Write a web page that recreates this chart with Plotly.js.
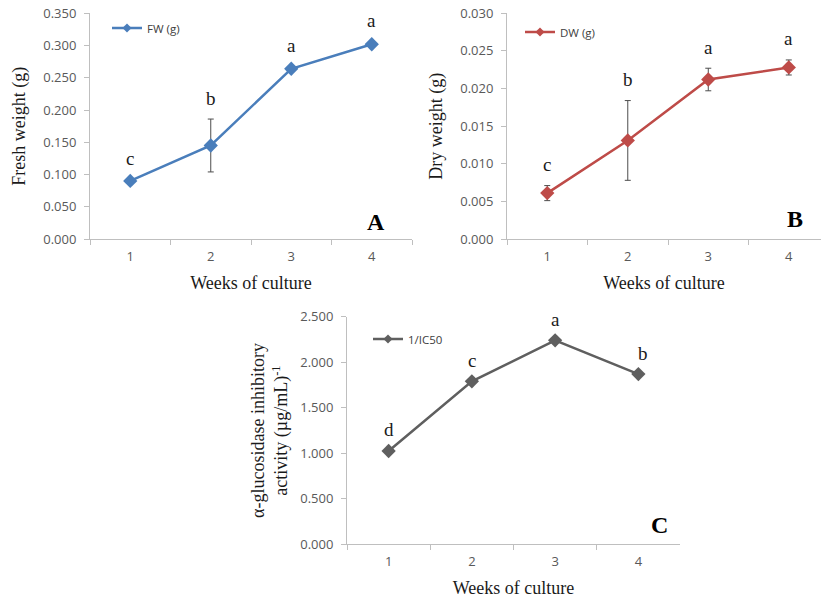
<!DOCTYPE html>
<html>
<head>
<meta charset="utf-8">
<script src="https://cdn.plot.ly/plotly-3.0.1.min.js"></script>
<style>html,body{margin:0;padding:0;background:#fff;}#chart{width:821px;height:603px;}</style>
</head>
<body>
<div id="chart"></div>
<script>
// ---- data ----
const weeks = ['1', '2', '3', '4'];
const freshWeight = [0.090, 0.145, 0.264, 0.302];
const freshWeightErr = [0.003, 0.041, 0.004, 0.004];
const freshLetters = ['c', 'b', 'a', 'a'];
const dryWeight = [0.0061, 0.0131, 0.0212, 0.0228];
const dryWeightErr = [0.0010, 0.0053, 0.0015, 0.0010];
const dryLetters = ['c', 'b', 'a', 'a'];
const inhibition = [1.025, 1.790, 2.240, 1.870];
const inhibitionLetters = ['d', 'c', 'a', 'b'];

const W = 821, H = 603;
const px = v => v / W;
const py = v => (H - v) / H;

const blue = '#4A7EBB', red = '#BE4B48', gray = '#5F5F5F';
const serif = 'Liberation Serif, Times New Roman, serif';
const sans = 'Open Sans, sans-serif';

function series(x, y, err, color, name, xa, ya, leg) {
  const t = {
    x: x, y: y, type: 'scatter', mode: 'lines+markers', name: name,
    xaxis: xa, yaxis: ya, showlegend: false,
    line: {color: color, width: 2.5},
    marker: {symbol: 'diamond', size: 11, color: color}
  };
  if (err) t.error_y = {type: 'data', array: err, visible: true, color: '#4d4d4d', thickness: 1, width: 3};
  // legend-only entry with a small marker, like the original legend key
  const key = {
    x: [null], y: [null], type: 'scatter', mode: 'lines+markers', name: name,
    xaxis: xa, yaxis: ya, legend: leg, showlegend: true, hoverinfo: 'skip',
    line: {color: color, width: 2.5},
    marker: {symbol: 'diamond', size: 7, color: color}
  };
  return [t, key];
}

const data = [].concat(
  series(weeks, freshWeight, freshWeightErr, blue, 'FW (g)', 'x', 'y', 'legend'),
  series(weeks, dryWeight, dryWeightErr, red, 'DW (g)', 'x2', 'y2', 'legend2'),
  series(weeks, inhibition, null, gray, '1/IC50', 'x3', 'y3', 'legend3')
);

const tickFont = {family: sans, size: 13, color: '#595959'};
const titleFont = {family: serif, size: 18, color: '#1a1a1a'};

function xAxis(domain, range, anchor) {
  return {
    domain: domain, range: range, type: 'category', anchor: anchor,
    showline: true, linecolor: '#bfbfbf', linewidth: 1,
    ticks: 'outside', tickson: 'boundaries', ticklen: 5, tickcolor: '#bfbfbf',
    showgrid: false, zeroline: false, tickfont: tickFont, ticklabelstandoff: 5,
    title: {text: 'Weeks of culture', font: titleFont, standoff: 12}
  };
}
function yAxis(domain, range, dtick, anchor, title, standoff) {
  return {
    domain: domain, range: range, dtick: dtick, tick0: 0, anchor: anchor,
    tickformat: '.3f', showline: true, linecolor: '#bfbfbf', linewidth: 1,
    ticks: 'outside', ticklen: 5, tickcolor: '#bfbfbf',
    showgrid: false, zeroline: false, tickfont: tickFont, ticklabelstandoff: 5,
    title: {text: title, font: titleFont, standoff: standoff}
  };
}

const annotations = [];
function addLetters(letters, ys, errs, xa, ya, lastShift) {
  letters.forEach((l, i) => {
    annotations.push({
      x: i, y: ys[i] + (errs ? errs[i] : 0), xref: xa, yref: ya,
      text: l, showarrow: false, yanchor: 'middle', yshift: 21,
      xshift: (i === letters.length - 1 && lastShift) ? lastShift : 0,
      font: {family: serif, size: 19, color: '#1a1a1a'}
    });
  });
}
addLetters(freshLetters, freshWeight, freshWeightErr, 'x', 'y', 0);
addLetters(dryLetters, dryWeight, dryWeightErr, 'x2', 'y2', 0);
addLetters(inhibitionLetters, inhibition, null, 'x3', 'y3', 5);

const panelFont = {family: serif, size: 24, color: '#000'};
[['A', 376, 222], ['B', 795, 219], ['C', 659, 525]].forEach(p => {
  annotations.push({
    text: '<b>' + p[0] + '</b>', x: px(p[1]), y: py(p[2]), xref: 'paper', yref: 'paper',
    showarrow: false, xanchor: 'center', yanchor: 'middle', font: panelFont
  });
});

function legend(x, y) {
  return {
    x: px(x), y: py(y), xref: 'paper', yref: 'paper', xanchor: 'left', yanchor: 'middle',
    bgcolor: 'rgba(0,0,0,0)', borderwidth: 0,
    font: {family: sans, size: 11.5, color: '#404040'}
  };
}

const layout = {
  width: W, height: H,
  margin: {l: 0, r: 0, t: 0, b: 0},
  paper_bgcolor: '#fff', plot_bgcolor: 'rgba(0,0,0,0)',
  showlegend: true,
  xaxis: xAxis([px(90), px(412)], [-0.5, 3.5], 'y'),
  yaxis: yAxis([py(239), py(13.3)], [0, 0.35], 0.05, 'x', 'Fresh weight (g)', 12),
  xaxis2: xAxis([px(507), 1], [-0.5, 3.4], 'y2'),
  yaxis2: yAxis([py(239), py(13.3)], [0, 0.03], 0.005, 'x2', 'Dry weight (g)', 12),
  xaxis3: xAxis([px(347), px(680)], [-0.5, 3.5], 'y3'),
  yaxis3: yAxis([py(544.3), py(316.7)], [0, 2.5], 0.5, 'x3', 'α-glucosidase inhibitory<br>activity (µg/mL)<sup>-1</sup>', 7),
  legend: legend(107, 28),
  legend2: legend(520, 32),
  legend3: legend(368, 339),
  annotations: annotations
};

Plotly.newPlot('chart', data, layout, {displayModeBar: false, staticPlot: true});
</script>
</body>
</html>
